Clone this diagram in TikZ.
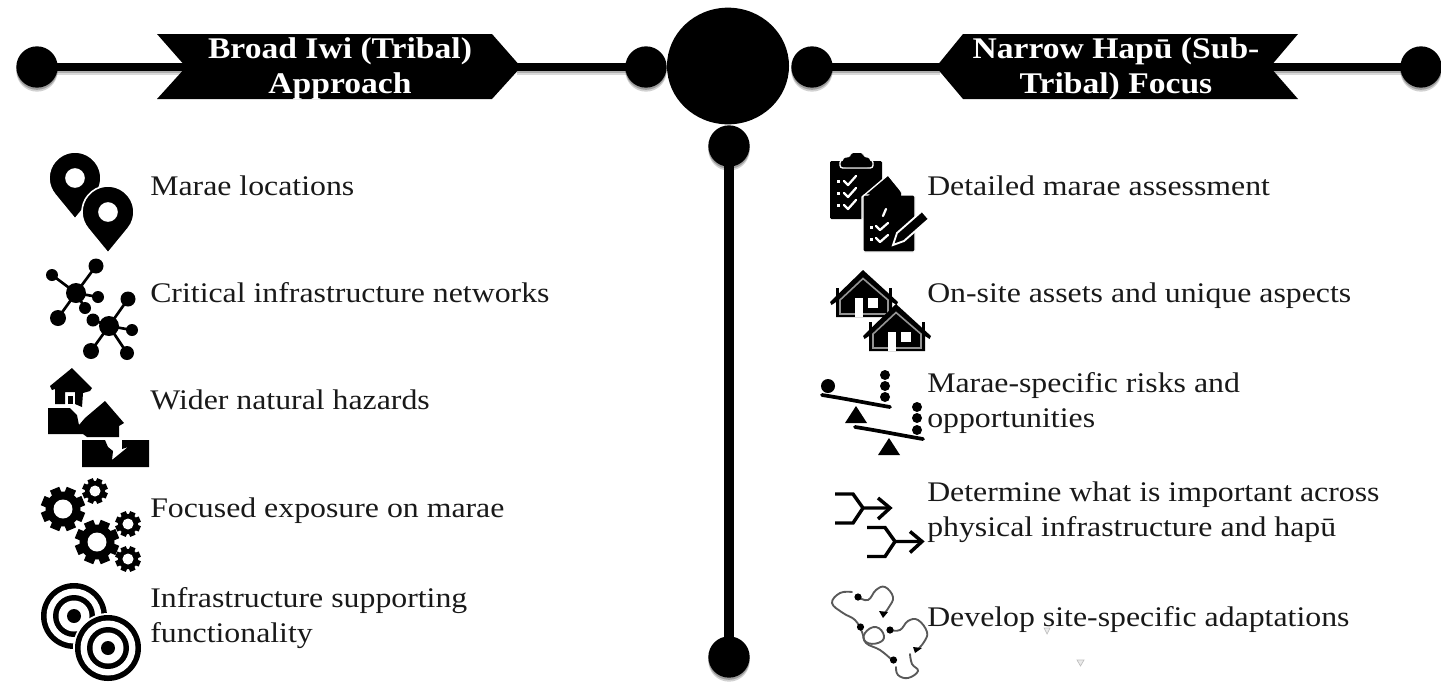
\documentclass[tikz,border=0pt]{standalone}
\usepackage{fontspec}
\setmainfont{Liberation Serif}
\newfontfamily\bodyfont[FakeStretch=1.12]{Liberation Serif}
\newfontfamily\headfont[FakeStretch=1.12]{Liberation Serif}
\usetikzlibrary{shadows,calc,shapes.geometric}
\tikzset{
  x=0.75pt,y=-0.75pt,
  softshadow/.style={general shadow={shadow xshift=0pt,shadow yshift=-3pt,fill=black,opacity=.18},
                     general shadow={shadow xshift=0pt,shadow yshift=-1.6pt,fill=black,opacity=.25}},
  dot/.style={circle,fill=black,inner sep=0pt,minimum size=31pt,softshadow},
  hub/.style={ellipse,fill=black,inner sep=0pt,minimum width=91.5pt,minimum height=87.5pt},
  conn/.style={line width=6pt,black,shorten <=-3pt,shorten >=-3pt,
     preaction={draw,black,opacity=.15,line width=6pt,transform canvas={yshift=-3pt}},
     preaction={draw,black,opacity=.2,line width=6pt,transform canvas={yshift=-1.5pt}}},
  vconn/.style={line width=7.5pt,black,shorten <=-3pt,shorten >=-3pt},
  banner/.style={fill=black},
  bannertext/.style={text=white,font=\headfont\fontsize{22.5}{26.25}\selectfont\bfseries,align=center,inner sep=0pt},
  label/.style={anchor=base west,inner sep=0pt,text=black!90,align=left,font=\bodyfont\fontsize{21.3}{26.25}\selectfont},
  ink/.style={fill=black},
  knock/.style={fill=white},
  checkmark/.style={draw=white,line width=1.7pt,line cap=round,line join=round},
  squiggle/.style={draw=black!65,line width=1.4pt,line cap=round},
  spread/.style={line width=2.6pt,black,line join=miter},
  pinicon/.pic={
    \fill[ink,draw=white,line width=1.2pt,even odd rule] (0,41) -- (39.3:26) arc[start angle=39.3,end angle=-219.3,radius=26] -- cycle (0,0) circle[radius=9];
  },
  gearicon/.pic={
    \foreach \a in {0,45,...,315}{\fill[ink,rotate=\a+22.5] (-5,-22) rectangle (5,-12);}
    \fill[ink] (0,0) circle[radius=17.5];
    \fill[knock] (0,0) circle[radius=9.5];
  },
  targeticon/.pic={
    \fill[knock] (0,0) circle[radius=35];
    \fill[ink] (0,0) circle[radius=33];
    \fill[knock] (0,0) circle[radius=27.5];
    \fill[ink] (0,0) circle[radius=21];
    \fill[knock] (0,0) circle[radius=15.5];
    \fill[ink] (0,0) circle[radius=7];
  },
  cottageicon/.pic={
    \fill[ink] (5.5,18) rectangle (8.5,28);
    \fill[ink] (58.5,18) rectangle (61.5,28);
    \fill[ink] (33,0) -- (0,32) -- (1.5,35) -- (6,32) -- (6,47) -- (62,47) -- (62,32) -- (66.5,35) -- (68,32) -- cycle;
    \draw[black!42,line width=1.2pt,line join=miter] (33,8.5) -- (10,30) -- (10,44) -- (58,44) -- (58,30) -- cycle;
    \fill[knock] (25,28) rectangle (33,47);
    \fill[knock] (38,28) rectangle (48,38);
  },
  seesawicon/.pic={
    \draw[line width=2.8pt,black,line cap=round] (0,0) .. controls (20,3) and (50,9) .. (68,12);
    \fill[ink] (34,11) -- (23,28) -- (45,28) -- cycle;
  },
  mergeicon/.pic={
    \draw[spread] (0,0) -- (18,0) -- (28,14) -- (55,14);
    \draw[spread] (0,29) -- (18,29) -- (28,14);
    \draw[spread] (43,4) -- (55,14) -- (43,25);
  },
  speck/.style={draw=black!25,fill=black!8,line width=.5pt}
}
\begin{document}
\begin{tikzpicture}
\useasboundingbox (0,0) rectangle (1441,686);
% header: banners
\fill[banner] (157,34) -- (492,34) -- (521,67) -- (492,99) -- (157,99) -- (186,67) -- cycle;
\fill[banner] (963,34) -- (1298,34) -- (1270,67) -- (1298,99) -- (963,99) -- (936,67) -- cycle;
\coordinate (bannerLwest) at (186,67);
\coordinate (bannerLeast) at (521,67);
\coordinate (bannerRwest) at (936,67);
\coordinate (bannerReast) at (1270,67);
% circles
\node[dot] (farleft) at (37,67) {};
\node[dot] (innerleft) at (646,67) {};
\node[dot] (innerright) at (812,67) {};
\node[dot] (farright) at (1421,67) {};
\node[hub] (hub) at (728,66) {};
\node[dot] (vtop) at (729,146) {};
\node[dot] (vbottom) at (729,657) {};
% connectors
\draw[conn] (farleft) -- (bannerLwest);
\draw[conn] (bannerLeast) -- (innerleft);
\draw[conn] (innerright) -- (bannerRwest);
\draw[conn] (bannerReast) -- (farright);
\draw[vconn] (vtop) -- (vbottom);
% banner text
\node[bannertext] (ttlL) at (340,68.5) {Broad Iwi (Tribal)\\Approach};
\node[bannertext] (ttlR) at (1116,68.5) {Narrow Hapū (Sub-\\Tribal) Focus};
% left labels
\node[label] (l1) at (150,195) {Marae locations};
\node[label] (l2) at (150,302) {Critical infrastructure networks};
\node[label] (l3) at (150,409) {Wider natural hazards};
\node[label] (l4) at (150,517) {Focused exposure on marae};
\node[label] (l5) at (150,642) {Infrastructure supporting\\functionality};
% right labels
\node[label] (r1) at (927,195) {Detailed marae assessment};
\node[label] (r2) at (927,302) {On-site assets and unique aspects};
\node[label] (r3) at (927,427) {Marae-specific risks and\\opportunities};
\node[label] (r4) at (927,536) {Determine what is important across\\physical infrastructure and hapū};
\node[label] (r5) at (927,626) {Develop site-specific adaptations};
% pins
\pic at (75,178) {pinicon};
\pic at (108,212) {pinicon};
% network
\foreach \x/\y/\r in {96/266/7.5,52/275/6,98/297/6,58/318/8,85/308/6,93/320/6.5,128/299/7.5,132/330/6,91/351/8,127/353/7,76/293/10,109/326/10}
  \fill[ink] (\x,\y) circle[radius=\r];
\foreach \x/\y in {96/266,52/275,98/297,58/318,85/308}
  \draw[black,line width=2pt] (76,293) -- (\x,\y);
\foreach \x/\y in {93/320,128/299,132/330,91/351,127/353}
  \draw[black,line width=2pt] (109,326) -- (\x,\y);
% hazards
\fill[ink] (72,368) -- (50,386) -- (52,390) -- (55,389) -- (55,404) -- (65,404) -- (65,392) -- (75,392) -- (75,404) -- (82,407) -- (83,393) -- (90,391) -- (92,388) -- cycle;
\fill[ink] (68,396) rectangle (72.5,404);
\fill[ink] (48,408) -- (70,408) -- (77,415) -- (79,425) -- (85,418) -- (105,401) -- (124,423) -- (119,426) -- (119,437) -- (87,437) -- (83,434) -- (48,434) -- cycle;
\fill[ink] (82,440) -- (105,440) -- (108,447) -- (113,451) -- (112,460) -- (128,447) -- (122,449) -- (122,440) -- (149,440) -- (149,467) -- (82,467) -- cycle;
% gears
\pic at (63,509) {gearicon};
\pic[scale=.58] at (95,491) {gearicon};
\pic at (97,542) {gearicon};
\pic[scale=.58] at (128,524) {gearicon};
\pic[scale=.58] at (128,559) {gearicon};
% targets
\pic at (74,616) {targeticon};
\pic at (108,648) {targeticon};
% clipboards
\fill[ink,rounded corners=1pt] (830,161) rectangle (882,219);
\fill[ink,draw=white,line width=1pt,rounded corners=2pt] (840,160) -- (873,160) -- (873,168) -- (840,168) -- cycle;
\fill[ink,rounded corners=2pt] (843,167) -- (843,158) -- (851,157) -- (851,153) -- (863,153) -- (863,157) -- (870,158) -- (870,167) -- cycle;
\foreach \y in {181,193,205}{
  \fill[knock] (836.5,\y-1.5) rectangle (839.5,\y+1.5);
  \draw[checkmark] (844,\y) -- (848,\y+4) -- (856,\y-5);
}
\fill[ink,draw=white,line width=1pt] (862,219) -- (862,197) -- (888,175) -- (901,191) -- (901,219) -- cycle;
\fill[ink,draw=white,line width=1pt,rounded corners=1pt] (863,195) rectangle (915,252);
\fill[ink] (866,198) -- (888,177) -- (901,193) -- (901,200) -- (866,200) -- cycle;
\draw[checkmark] (883,216) -- (886,209);
\foreach \y in {227,239}{
  \fill[knock] (870,\y-1) rectangle (873,\y+2);
  \draw[checkmark] (876,\y-1) -- (880,\y+3) -- (888,\y-4);
}
\fill[ink,draw=white,line width=1.4pt] (893,245) -- (897,233) -- (922,211) -- (929,219) -- (904,241) -- cycle;
% houses
\pic at (830,270) {cottageicon};
\pic at (863,304) {cottageicon};
% seesaws
\pic at (822,395) {seesawicon};
\fill[ink] (828,386) circle[radius=7];
\foreach \y in {375,386,397}\fill[ink] (885,\y) circle[radius=5];
\pic at (855,427) {seesawicon};
\foreach \y in {407,418,430}\fill[ink] (917,\y) circle[radius=5];
% merges
\pic at (835,494) {mergeicon};
\pic at (867,527.5) {mergeicon};
% squiggle
\draw[squiggle] plot[smooth,tension=.7] coordinates {(852,592) (840,593) (832,603) (843,613) (855,620) (862,632) (866,643) (880,650) (892,660)};
\draw[squiggle] plot[smooth,tension=.7] coordinates {(858,597) (868,600) (876,590) (885,587) (893,597) (889,607) (883,615)};
\draw[squiggle] plot[smooth,tension=.7] coordinates {(890,630) (900,630) (908,621) (918,620) (927,632) (924,642) (917,650)};
\draw[squiggle] plot[smooth,tension=.7] coordinates {(910,654) (912,664) (918,671) (908,678) (898,675) (896,667)};
\draw[squiggle] plot[smooth cycle,tension=.8] coordinates {(876,627) (865,633) (866,642) (878,643) (884,636)};
\foreach \x/\y in {858/597,860.5/627,890/630,893.5/660}\fill[ink] (\x,\y) circle[radius=3.6];
\fill[ink] (879,611) -- (888,612) -- (883,618) -- cycle;
\fill[ink] (913,647) -- (922,648) -- (915,653) -- cycle;
% stray specks
\draw[speck] (1044,628) -- (1050,628) -- (1047,634) -- cycle;
\draw[speck] (1077,660) -- (1084,660) -- (1080.5,666) -- cycle;
\end{tikzpicture}
\end{document}
